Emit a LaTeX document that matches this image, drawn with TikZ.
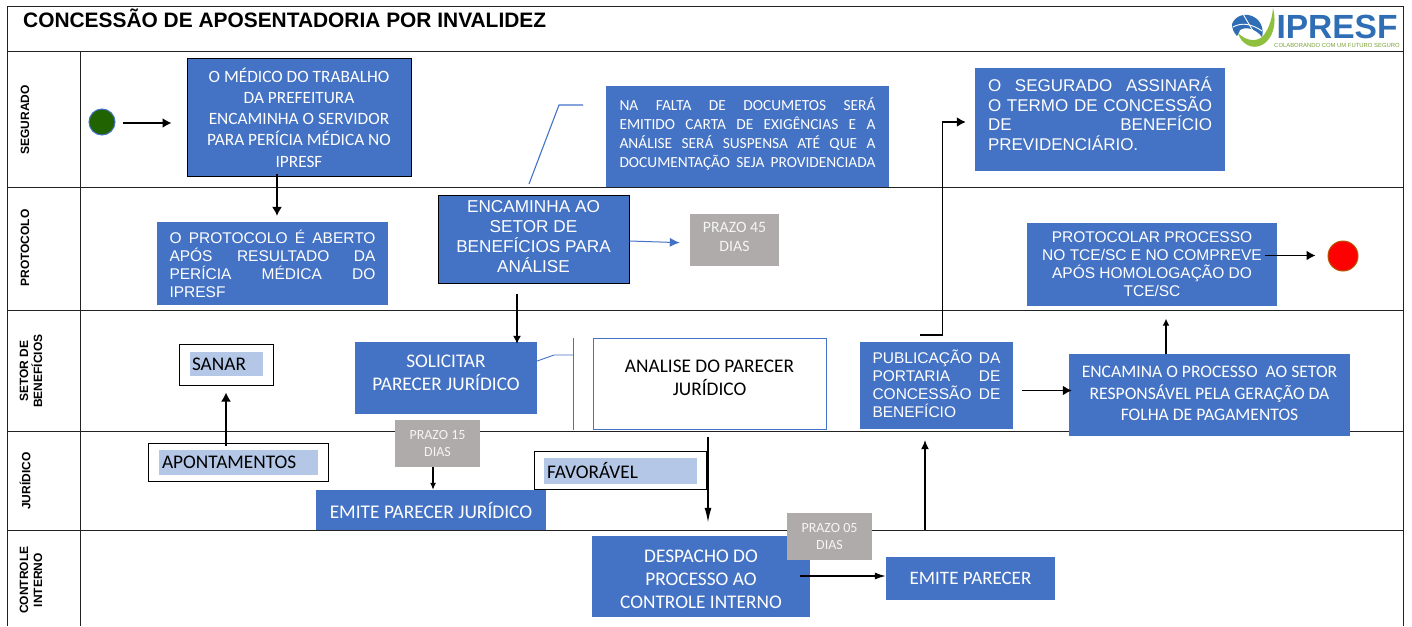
\documentclass[tikz,border=0pt]{standalone}
\usepackage{fontspec}
\setmainfont{Carlito}
\newfontfamily\arialf{Liberation Sans}
\usetikzlibrary{arrows.meta,calc}
\definecolor{bx}{HTML}{4472C4}
\definecolor{gy}{HTML}{AFABAB}
\definecolor{lb}{HTML}{B4C7E7}
\definecolor{ln}{HTML}{222222}
\definecolor{lgblue}{HTML}{2F6DB5}
\definecolor{lggreen}{HTML}{8FBF3F}
\newcommand{\jl}[2]{\makebox[#1][s]{\spaceskip=.3em plus 1fil\relax #2}}
\tikzset{
  bluebox/.style={fill=bx,draw=none,text=white,inner sep=0pt,align=center,font=\fontsize{17.3}{21.2}\selectfont},
  darkedge/.style={draw=black,line width=1pt},
  greybox/.style={fill=gy,text=white!92!gray,inner sep=0pt,align=center,font=\fontsize{14}{17}\selectfont},
  outerbox/.style={draw=black,fill=white,line width=1pt,inner sep=0pt},
  innerbox/.style={fill=lb,text=black,inner sep=0pt,align=left,font=\fontsize{19.3}{20}\selectfont},
  lanelabel/.style={rotate=90,align=center,font=\arialf\bfseries\fontsize{12}{14}\selectfont,inner sep=0pt},
  lane/.style={draw=ln,line width=1pt},
  arr/.style={draw=black,line width=1.7pt,-{Latex[length=9pt,width=10pt]}},
  thinarr/.style={draw=black,line width=1.2pt,-{Latex[length=8pt,width=8pt]}},
  bluearr/.style={draw=bx,line width=1pt,-{Latex[length=10pt,width=9pt]}},
  bluelin/.style={draw=bx,line width=1.1pt},
  arialbox/.style={font=\arialf\fontsize{15.5}{18}\selectfont},
  bigtext/.style={font=\fontsize{19.3}{23}\selectfont}
}
\begin{document}
\begin{tikzpicture}[x=1pt,y=-1pt]
\useasboundingbox (0,0) rectangle (1412,626);
% frame and swimlanes
\draw[lane] (7,626) -- (7,7) -- (1403,7) -- (1403,626);
\draw[lane] (7,52) -- (1403,52);
\draw[lane] (7,187) -- (1403,187);
\draw[lane] (7,310) -- (1403,310);
\draw[lane] (7,431) -- (1403,431);
\draw[lane] (7,530) -- (1403,530);
\draw[lane] (80,52) -- (80,626);
% title
\node[anchor=west,inner sep=0pt,font=\arialf\bfseries\fontsize{20.9}{22}\selectfont] (title) at (23,18.5) {CONCESSÃO DE APOSENTADORIA POR INVALIDEZ};
% lane labels
\node[lanelabel] (l1) at (25,120) {SEGURADO};
\node[lanelabel] (l2) at (25,248) {PROTOCOLO};
\node[lanelabel] (l3) at (31,371) {SETOR DE\\BENEFÍCIOS};
\node[lanelabel] (l4) at (25,481) {JURÍDICO};
\node[lanelabel] (l5) at (31,580) {CONTROLE\\INTERNO};
% logo
\fill[lgblue] (1232,24) .. controls (1235,16) and (1245,12) .. (1254,17) .. controls (1261,21) and (1264,29) .. (1262,37) .. controls (1256,29) and (1246,26) .. (1240,30) .. controls (1239,33) and (1238,35) .. (1237,36) .. controls (1234,33) and (1232,29) .. (1232,24) -- cycle;
\draw[white,line width=.9pt] (1243,14) -- (1253,31);
\draw[white,line width=.9pt] (1233,27) .. controls (1242,22) and (1252,24) .. (1262,31);
\fill[lggreen] (1238,33) .. controls (1246,41) and (1256,42) .. (1262,37) .. controls (1268,31) and (1272,20) .. (1273,8) .. controls (1277,24) and (1273,39) .. (1262,45) .. controls (1252,50) and (1241,44) .. (1238,33) -- cycle;
\node[inner sep=0pt,text=lgblue,font=\arialf\bfseries\fontsize{33.5}{34}\selectfont] (logotext) at (1337,26.5) {IPRESF};
\node[inner sep=0pt,text=lggreen!85!black,font=\arialf\fontsize{5.9}{6}\selectfont] (logotag) at (1337,45) {COLABORANDO COM UM FUTURO SEGURO};
% nodes
\node[fill=green!35!black!75!olive,draw=bx,line width=1pt,circle,minimum size=26pt,inner sep=0pt] (start) at (102,122) {};
\node[fill=red,draw=orange!70!black,line width=1pt,circle,minimum size=30pt,inner sep=0pt] (stop) at (1343,256) {};
\node[bluebox,darkedge,minimum width=224pt,minimum height=118pt,yshift=.5pt] (medico) at (299,118) {O MÉDICO DO TRABALHO\\DA PREFEITURA\\ENCAMINHA O SERVIDOR\\PARA PERÍCIA MÉDICA NO\\IPRESF};
\node[bluebox,minimum width=231pt,minimum height=83pt,text width=206pt,align=left,arialbox] (protocolo) at (272.5,263.5) {\jl{206pt}{O PROTOCOLO É ABERTO}\\\jl{206pt}{APÓS RESULTADO DA}\\\jl{206pt}{PERÍCIA MÉDICA DO}\\IPRESF};
\node[bluebox,darkedge,minimum width=191pt,minimum height=88pt,font=\arialf\fontsize{17.2}{20}\selectfont] (encaminha) at (533.5,239) {ENCAMINHA AO\\SETOR DE\\BENEFÍCIOS PARA\\ANÁLISE\\[-15pt]\mbox{}};
\node[greybox,minimum width=89pt,minimum height=52pt,font=\fontsize{15.8}{19}\selectfont] (p45) at (734.5,240) {PRAZO 45\\DIAS\\[-13pt]\mbox{}};
\node[bluebox,minimum width=283pt,minimum height=101pt,text width=256pt,align=left,font=\fontsize{15.4}{19}\selectfont] (falta) at (747.5,136.5) {\jl{256pt}{NA FALTA DE DOCUMETOS SERÁ}\\\jl{256pt}{EMITIDO CARTA DE EXIGÊNCIAS E A}\\\jl{256pt}{ANÁLISE SERÁ SUSPENSA ATÉ QUE A}\\\jl{256pt}{DOCUMENTAÇÃO SEJA PROVIDENCIADA}\\[-11pt]\mbox{}};
\node[bluebox,minimum width=250pt,minimum height=103pt,text width=224pt,align=left,font=\arialf\fontsize{17}{19.6}\selectfont] (assina) at (1100,119.5) {\jl{224pt}{O SEGURADO ASSINARÁ}\\\jl{224pt}{O TERMO DE CONCESSÃO}\\\jl{224pt}{DE BENEFÍCIO}\\PREVIDENCIÁRIO.\\[-8pt]\mbox{}};
\node[bluebox,minimum width=250pt,minimum height=83pt,arialbox] (protocolar) at (1152,264) {PROTOCOLAR PROCESSO\\NO TCE/SC E NO COMPREVE\\APÓS HOMOLOGAÇÃO DO\\TCE/SC};
\node[bluebox,minimum width=182pt,minimum height=72pt,bigtext] (solicitar) at (446,378) {SOLICITAR\\PARECER JURÍDICO\\[-13pt]\mbox{}};
\node[draw=bx,fill=white,line width=1pt,inner sep=0pt,minimum width=233pt,minimum height=91pt,text=black,align=center,bigtext] (analise) at (709.5,383.5) {ANALISE DO PARECER\\JURÍDICO\\[-11pt]\mbox{}};
\node[bluebox,minimum width=153pt,minimum height=87pt,text width=128pt,align=left,arialbox] (publica) at (936.5,385.5) {\jl{128pt}{PUBLICAÇÃO DA}\\\jl{128pt}{PORTARIA DE}\\\jl{128pt}{CONCESSÃO DE}\\BENEFÍCIO\\[-14pt]\mbox{}};
\node[bluebox,minimum width=281pt,minimum height=82pt,font=\fontsize{17.6}{21.5}\selectfont] (folha) at (1209.5,395) {ENCAMINA O PROCESSO\ \ AO SETOR\\RESPONSÁVEL PELA GERAÇÃO DA\\FOLHA DE PAGAMENTOS\\[-19pt]\mbox{}};
\node[outerbox,minimum width=94pt,minimum height=41pt] (sanarb) at (226,364.5) {};
\node[innerbox,minimum width=73pt,minimum height=24pt,text width=71pt] (sanar) at (226.5,364) {\hspace{1pt}SANAR};
\node[outerbox,minimum width=180pt,minimum height=38pt] (apontb) at (238,462) {};
\node[innerbox,minimum width=159pt,minimum height=25pt,text width=157pt] (apont) at (238.5,462.5) {\hspace{2pt}\raisebox{-1pt}{APONTAMENTOS}};
\node[bluebox,minimum width=230pt,minimum height=40pt,font=\fontsize{19.4}{20}\selectfont] (emitej) at (431,510) {EMITE PARECER JURÍDICO};
\node[greybox,minimum width=85pt,minimum height=47pt] (p15) at (437.5,443.5) {PRAZO 15\\DIAS};
\node[outerbox,minimum width=172pt,minimum height=38pt] (favb) at (620,470) {};
\node[innerbox,minimum width=153pt,minimum height=26pt,text width=151pt] (fav) at (620.5,471) {\hspace{2pt}\raisebox{2pt}{FAVORÁVEL}};
\node[bluebox,minimum width=218pt,minimum height=81pt,bigtext] (despacho) at (701,576.5) {\rule{0pt}{6pt}\\[-11pt]DESPACHO DO\\PROCESSO AO\\CONTROLE INTERNO};
\node[greybox,minimum width=85pt,minimum height=47pt] (p05) at (829.5,536.5) {PRAZO 05\\DIAS};
\node[bluebox,minimum width=169pt,minimum height=43pt,font=\fontsize{19}{20}\selectfont] (emitep) at (970.5,578.5) {EMITE PARECER};
% connectors
\draw[arr,shorten <=7pt,shorten >=15pt] ([yshift=-1pt]start.east) -- ([yshift=-1pt]start.east -| medico.west);
\draw[thinarr,-{Latex[length=9pt,width=10pt]},shorten <=-3pt,shorten >=6pt] ([xshift=-22pt]medico.south) -- ([xshift=-22pt]medico.south |- protocolo.north);
\draw[thinarr,shorten <=10pt,shorten >=-2pt] ([xshift=-16.5pt]encaminha.south) -- ([xshift=-16.5pt]encaminha.south |- solicitar.north);
\draw[bluearr,shorten >=10pt] ([yshift=-2pt]encaminha.east) -- ([yshift=-3pt]p45.west);
\draw[arr,shorten <=9pt,shorten >=-3pt] ([yshift=-5pt]publica.east) -- ([yshift=-5pt]publica.east -| folha.west);
\draw[arr] ([xshift=-17pt,yshift=7pt]publica.north) -- ([xshift=6pt,yshift=7pt]publica.north) |- ([yshift=-2.5pt,xshift=-9pt]assina.west);
\draw[thinarr,-{Latex[length=7pt,width=7pt]},shorten >=13pt] ([xshift=-43.5pt]folha.north) -- ([xshift=-43.5pt]folha.north |- protocolar.south);
\draw[arr,shorten <=-12pt,shorten >=12pt] ([yshift=8.5pt]protocolar.east) -- ([yshift=8.5pt]protocolar.east -| stop.west);
\draw[arr,shorten <=-3pt,shorten >=7pt] (apontb.north -| sanarb.south) -- (sanarb.south);
\draw[thinarr,-{Latex[length=7pt,width=6pt]}] ([xshift=-4.5pt]p15.south) -- ([xshift=-4.5pt]p15.south |- emitej.north);
\draw[arr,-{Latex[length=15pt,width=7pt]},shorten <=7pt,shorten >=13pt] ([xshift=-1.5pt]analise.south) -- ([xshift=-1.5pt]analise.south |- despacho.north);
\draw[thinarr,-{Latex[length=11pt,width=7pt]},shorten <=-10pt] ([yshift=.5pt]despacho.east) -- ([yshift=.5pt]despacho.east -| emitep.west);
\draw[thinarr,-{Latex[length=9pt,width=8pt]},shorten <=27pt,shorten >=11pt] ([xshift=-45.5pt]emitep.north) -- ([xshift=-45.5pt]emitep.north |- publica.south);
% callouts
\draw[bluelin] (529,184) -- (559,105) -- (583,105);
\draw[bluelin,line width=.9pt] ([yshift=17pt]solicitar.east) -- (554,355) -- (573,355);
\draw[bluelin,line width=.9pt] (573,338) -- (573,430);
\end{tikzpicture}
\end{document}
